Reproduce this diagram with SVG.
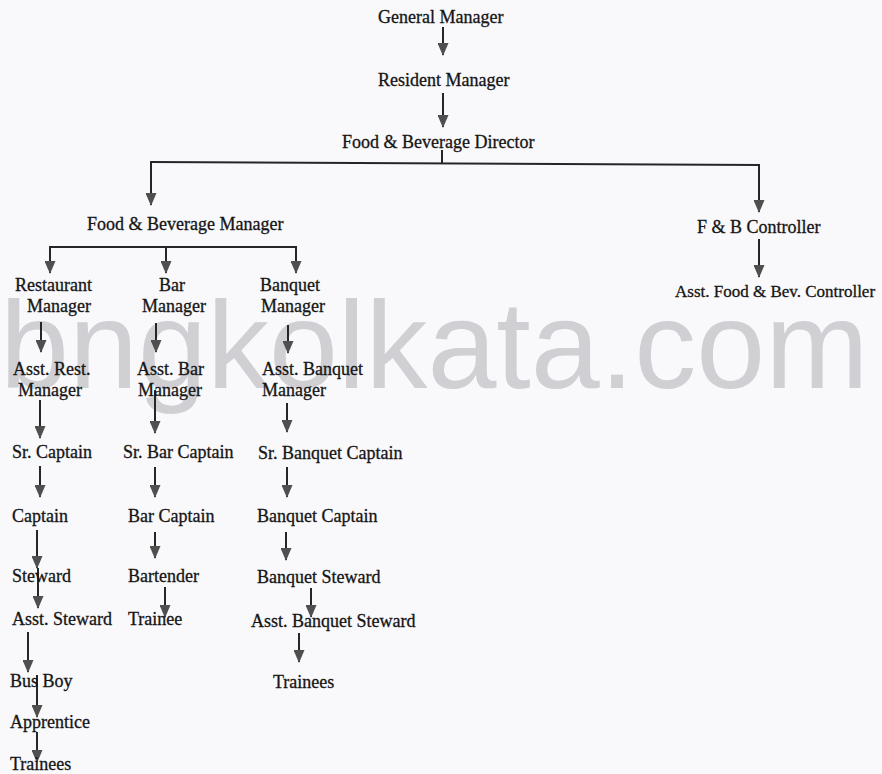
<svg xmlns="http://www.w3.org/2000/svg" width="882" height="774" viewBox="0 0 882 774">
<defs>
<style>
.t{font-family:"Liberation Serif","Times New Roman",serif;font-size:18px;fill:#151515;stroke:#151515;stroke-width:0.3}
.s{font-size:17px}
.c{stroke:#262626;stroke-width:2;fill:none;marker-end:url(#ah)}
.p{stroke:#262626;stroke-width:2;fill:none}
.wm{font-family:"Liberation Sans",Arial,sans-serif;font-size:124px;fill:#d0d0d4}
</style>
<marker id="ah" markerUnits="userSpaceOnUse" markerWidth="13" markerHeight="11" refX="12" refY="5.5" orient="auto" viewBox="0 0 13 11">
<path d="M0,0 L13,5.5 L0,11 z" fill="#4f4f4f"/>
</marker>
</defs>
<rect width="882" height="774" fill="#f9f9fb"/>
<g id="watermark"><text class="wm" x="0" y="388">bngkolkata.com</text></g>

<g id="connectors">
<line class="c" x1="443" y1="27" x2="443" y2="55"/>
<line class="c" x1="443" y1="93" x2="443" y2="127"/>
<line class="p" x1="442" y1="150" x2="442" y2="163.5"/>
<line class="p" x1="150" y1="162" x2="760" y2="165"/>
<line class="c" x1="151" y1="162" x2="151" y2="205"/>
<line class="c" x1="759" y1="165" x2="759" y2="212"/>
<line class="c" x1="759" y1="239" x2="759" y2="277"/>
<line class="p" x1="49" y1="247" x2="297" y2="247"/>
<line class="c" x1="50" y1="247" x2="50" y2="273"/>
<line class="c" x1="166" y1="247" x2="166" y2="273"/>
<line class="c" x1="296" y1="247" x2="296" y2="273"/>
<!-- Restaurant column -->
<line class="c" x1="41" y1="322" x2="41" y2="352"/>
<line class="c" x1="40" y1="400" x2="40" y2="438"/>
<line class="c" x1="40" y1="466" x2="40" y2="497"/>
<line class="c" x1="37" y1="530" x2="37" y2="568"/>
<line class="c" x1="38" y1="568" x2="38" y2="608"/>
<line class="c" x1="28" y1="632" x2="28" y2="672"/>
<line class="c" x1="37" y1="675" x2="37" y2="717"/>
<line class="c" x1="37" y1="732" x2="37" y2="762"/>
<!-- Bar column -->
<line class="c" x1="156" y1="323" x2="156" y2="352"/>
<line class="c" x1="155" y1="390" x2="155" y2="433"/>
<line class="c" x1="155" y1="467" x2="155" y2="497"/>
<line class="c" x1="155" y1="532" x2="155" y2="558"/>
<line class="c" x1="165" y1="587" x2="165" y2="617"/>
<!-- Banquet column -->
<line class="c" x1="288" y1="325" x2="288" y2="353"/>
<line class="c" x1="287" y1="403" x2="287" y2="432"/>
<line class="c" x1="287" y1="467" x2="287" y2="497"/>
<line class="c" x1="286" y1="532" x2="286" y2="560"/>
<line class="c" x1="311" y1="588" x2="311" y2="617"/>
<line class="c" x1="299" y1="633" x2="299" y2="662"/>
</g>

<g id="general-manager"><text class="t" x="378" y="23">General Manager</text></g>
<g id="resident-manager"><text class="t" x="378" y="86">Resident Manager</text></g>
<g id="fb-director"><text class="t" x="342" y="148">Food &amp; Beverage Director</text></g>
<g id="fb-manager"><text class="t" x="87" y="230">Food &amp; Beverage Manager</text></g>
<g id="fb-controller"><text class="t" x="697" y="233">F &amp; B Controller</text></g>
<g id="asst-fb-controller"><text class="t s" x="675" y="297">Asst. Food &amp; Bev. Controller</text></g>

<g id="restaurant-manager"><text class="t" x="15" y="291">Restaurant</text><text class="t" x="27" y="312">Manager</text></g>
<g id="bar-manager"><text class="t" x="159" y="291">Bar</text><text class="t" x="142" y="312">Manager</text></g>
<g id="banquet-manager"><text class="t" x="260" y="291">Banquet</text><text class="t" x="261" y="312">Manager</text></g>

<g id="asst-rest-manager"><text class="t" x="13" y="375">Asst. Rest.</text><text class="t" x="18" y="396">Manager</text></g>
<g id="asst-bar-manager"><text class="t" x="137" y="375">Asst. Bar</text><text class="t" x="138" y="396">Manager</text></g>
<g id="asst-banquet-manager"><text class="t" x="262" y="375">Asst. Banquet</text><text class="t" x="262" y="396">Manager</text></g>

<g id="sr-captain"><text class="t" x="12" y="458">Sr. Captain</text></g>
<g id="sr-bar-captain"><text class="t" x="123" y="458">Sr. Bar Captain</text></g>
<g id="sr-banquet-captain"><text class="t" x="258" y="459">Sr. Banquet Captain</text></g>

<g id="captain"><text class="t" x="12" y="522">Captain</text></g>
<g id="bar-captain"><text class="t" x="128" y="522">Bar Captain</text></g>
<g id="banquet-captain"><text class="t" x="257" y="522">Banquet Captain</text></g>

<g id="steward"><text class="t" x="12" y="582">Steward</text></g>
<g id="bartender"><text class="t" x="128" y="582">Bartender</text></g>
<g id="banquet-steward"><text class="t" x="257" y="583">Banquet Steward</text></g>

<g id="asst-steward"><text class="t" x="12" y="625">Asst. Steward</text></g>
<g id="bar-trainee"><text class="t" x="128" y="625">Trainee</text></g>
<g id="asst-banquet-steward"><text class="t" x="251" y="627">Asst. Banquet Steward</text></g>

<g id="bus-boy"><text class="t" x="10" y="687">Bus Boy</text></g>
<g id="banquet-trainees"><text class="t" x="273" y="688">Trainees</text></g>
<g id="apprentice"><text class="t" x="10" y="728">Apprentice</text></g>
<g id="rest-trainees"><text class="t" x="10" y="770">Trainees</text></g>
</svg>
